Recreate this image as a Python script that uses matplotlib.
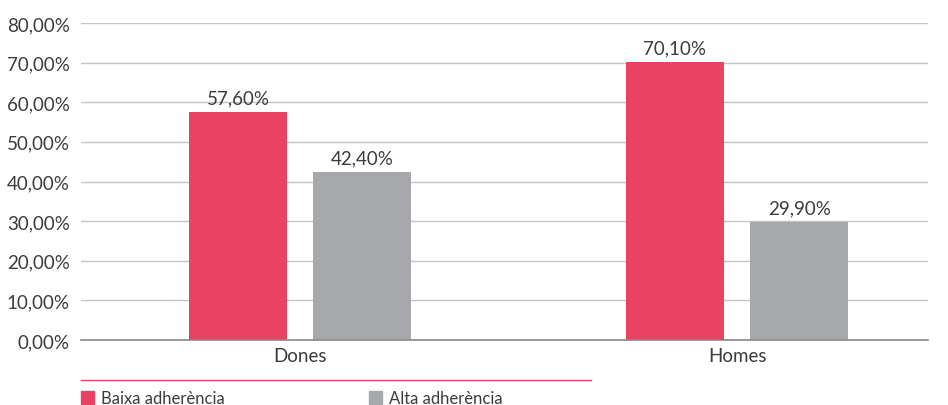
"""
Adherència per sexe - bar chart.
"""
import numpy as np
import matplotlib
matplotlib.use("Agg")
import matplotlib.pyplot as plt
from matplotlib.patches import Rectangle
from matplotlib.lines import Line2D

categories = ["Dones", "Homes"]
baixa = [57.60, 70.10]
alta = [42.40, 29.90]
series_names = ["Baixa adherència", "Alta adherència"]
yticks = [0, 10, 20, 30, 40, 50, 60, 70, 80]

red = "#E94262"
grey = "#A7A8AB"
txt = "#3c3c3c"

plt.rcParams['font.family'] = ['Lato', 'DejaVu Sans']

fig = plt.figure(figsize=(9.48, 4.06), dpi=100)
ax = fig.add_axes([81/948, 1-341/406, (928-81)/948, (341-24)/406])

x = np.arange(len(categories))
w = 0.224
off = 0.142
b1 = ax.bar(x - off, baixa, w, color=red, zorder=3)
b2 = ax.bar(x + off, alta, w, color=grey, zorder=3)

def fmt(v):
  return ("%.2f%%" % v).replace(".", ",")

for bars, vals in [(b1, baixa), (b2, alta)]:
  for b, v in zip(bars, vals):
    ax.annotate(fmt(v), (b.get_x()+b.get_width()/2, v), xytext=(0, 4),
                textcoords="offset points", ha="center", va="bottom",
                fontsize=13.5, color=txt)

ax.set_xlim(-0.501, 1.437)
ax.set_ylim(0, 80)
ax.set_yticks(yticks)
ax.set_yticklabels([fmt(t) for t in yticks], fontsize=13.5, color=txt)
ax.set_xticks(x)
ax.set_xticklabels(categories, fontsize=13.5, color=txt)
ax.tick_params(axis="both", length=0, pad=5)
ax.tick_params(axis="y", pad=8)
ax.grid(axis="y", color="#c4c4c4", linewidth=1, zorder=0)
for s in ["top", "right", "left"]:
  ax.spines[s].set_visible(False)
ax.spines["bottom"].set_color("#888888")
ax.spines["bottom"].set_linewidth(1.2)
ax.spines["bottom"].set_zorder(4)

# legend area
fig.add_artist(Line2D([81/948, 591/948], [1-381/406, 1-381/406], color=red, linewidth=1))
for xs, col, name in [(81, red, series_names[0]), (369, grey, series_names[1])]:
  fig.add_artist(Rectangle((xs/948, 1-405/406), 13/948, 13/406, color=col,
                           transform=fig.transFigure))
  fig.text((xs+20)/948, 1-399/406, name, fontsize=12, color=txt, va="center")

fig.savefig("out.png", dpi=100)
